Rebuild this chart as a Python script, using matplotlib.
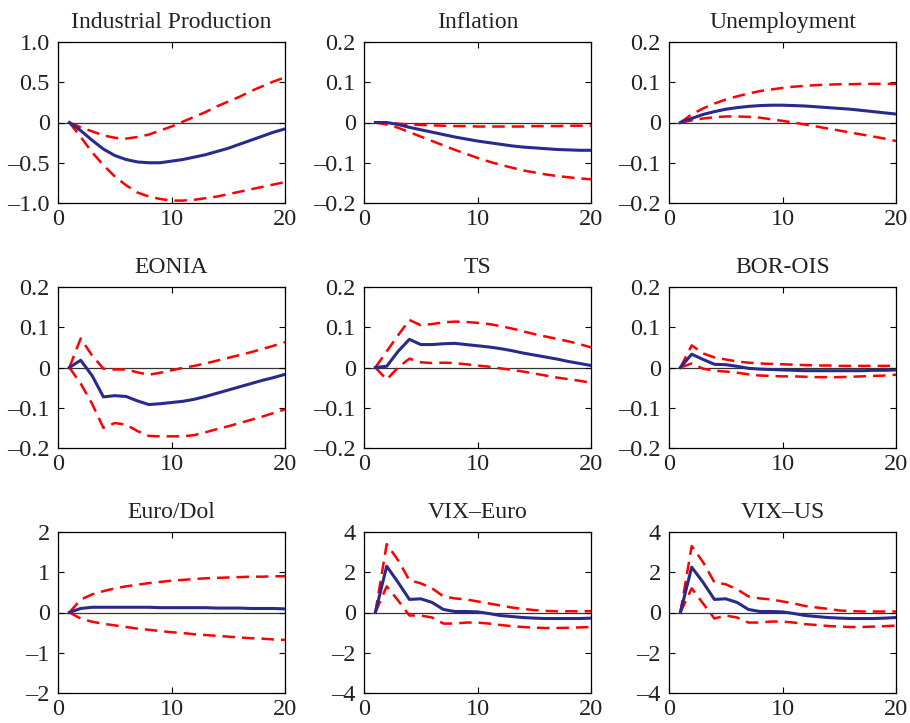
import matplotlib
matplotlib.use("Agg")
import matplotlib.pyplot as plt
import numpy as np

# horizon
steps = np.arange(1, 21)

titles = ["Industrial Production", "Inflation", "Unemployment",
          "EONIA", "TS", "BOR-OIS",
          "Euro/Dol", "VIX\u2013Euro", "VIX\u2013US"]

# median responses
ip_med = [0, -0.10, -0.22, -0.33, -0.41, -0.46, -0.49, -0.50, -0.50, -0.48,
          -0.46, -0.43, -0.40, -0.36, -0.32, -0.27, -0.22, -0.17, -0.12, -0.08]
ip_up = [0, -0.06, -0.11, -0.16, -0.19, -0.20, -0.18, -0.15, -0.10, -0.05,
         0.01, 0.07, 0.13, 0.20, 0.26, 0.32, 0.39, 0.45, 0.51, 0.56]
ip_lo = [0, -0.18, -0.37, -0.53, -0.67, -0.78, -0.87, -0.92, -0.95, -0.97,
         -0.97, -0.96, -0.94, -0.92, -0.89, -0.86, -0.83, -0.80, -0.77, -0.74]

inf_med = [0, 0, -0.005, -0.012, -0.018, -0.024, -0.030, -0.036, -0.041, -0.046,
           -0.050, -0.054, -0.058, -0.061, -0.063, -0.065, -0.067, -0.068, -0.069, -0.069]
inf_up = [0, 0, -0.003, -0.005, -0.006, -0.007, -0.008, -0.009, -0.009, -0.010,
          -0.010, -0.010, -0.010, -0.010, -0.009, -0.009, -0.009, -0.008, -0.008, -0.008]
inf_lo = [0, -0.005, -0.013, -0.024, -0.035, -0.046, -0.057, -0.068, -0.078, -0.088,
          -0.097, -0.105, -0.112, -0.119, -0.124, -0.129, -0.133, -0.136, -0.139, -0.141]

un_med = [0, 0.010, 0.020, 0.027, 0.033, 0.037, 0.040, 0.042, 0.043, 0.043,
          0.042, 0.041, 0.039, 0.037, 0.035, 0.033, 0.030, 0.027, 0.024, 0.021]
un_up = [0, 0.020, 0.035, 0.047, 0.057, 0.065, 0.072, 0.078, 0.082, 0.086,
         0.089, 0.091, 0.093, 0.094, 0.095, 0.095, 0.096, 0.096, 0.096, 0.096]
un_lo = [0, 0.005, 0.010, 0.013, 0.015, 0.015, 0.014, 0.012, 0.008, 0.004,
         0.000, -0.005, -0.010, -0.015, -0.020, -0.025, -0.030, -0.035, -0.040, -0.046]

eo_med = [0, 0.018, -0.020, -0.073, -0.070, -0.072, -0.083, -0.092, -0.090, -0.087,
          -0.084, -0.079, -0.072, -0.064, -0.056, -0.048, -0.040, -0.032, -0.025, -0.017]
eo_up = [0, 0.072, 0.030, -0.003, -0.005, -0.005, -0.012, -0.018, -0.013, -0.007,
         -0.001, 0.004, 0.010, 0.017, 0.024, 0.031, 0.038, 0.046, 0.054, 0.063]
eo_lo = [0, -0.040, -0.090, -0.150, -0.138, -0.142, -0.158, -0.170, -0.171, -0.171,
         -0.171, -0.168, -0.161, -0.153, -0.146, -0.138, -0.130, -0.122, -0.113, -0.104]

ts_med = [0, 0.003, 0.040, 0.070, 0.057, 0.057, 0.059, 0.060, 0.057, 0.054,
          0.051, 0.047, 0.042, 0.036, 0.031, 0.026, 0.021, 0.015, 0.010, 0.005]
ts_up = [0, 0.040, 0.080, 0.118, 0.105, 0.108, 0.112, 0.114, 0.113, 0.111,
         0.108, 0.103, 0.097, 0.090, 0.083, 0.077, 0.071, 0.065, 0.058, 0.050]
ts_lo = [0, -0.030, 0.000, 0.022, 0.013, 0.011, 0.012, 0.011, 0.008, 0.005,
         0.002, -0.002, -0.006, -0.010, -0.015, -0.020, -0.025, -0.029, -0.033, -0.038]

bo_med = [0, 0.033, 0.020, 0.008, 0.007, 0.003, -0.002, -0.004, -0.005, -0.006,
          -0.007, -0.008, -0.008, -0.008, -0.008, -0.008, -0.008, -0.007, -0.007, -0.006]
bo_up = [0, 0.055, 0.035, 0.025, 0.020, 0.015, 0.012, 0.010, 0.009, 0.008,
         0.007, 0.006, 0.005, 0.005, 0.004, 0.004, 0.004, 0.004, 0.004, 0.004]
bo_lo = [0, 0.010, -0.003, -0.008, -0.010, -0.013, -0.017, -0.020, -0.021, -0.022,
         -0.022, -0.023, -0.024, -0.024, -0.024, -0.023, -0.022, -0.021, -0.020, -0.018]

ed_med = [0, 0.10, 0.13, 0.13, 0.13, 0.13, 0.13, 0.13, 0.12, 0.12,
          0.12, 0.12, 0.12, 0.11, 0.11, 0.11, 0.10, 0.10, 0.10, 0.09]
ed_up = [0, 0.32, 0.45, 0.53, 0.60, 0.65, 0.69, 0.73, 0.76, 0.79,
         0.81, 0.83, 0.85, 0.86, 0.87, 0.88, 0.89, 0.89, 0.90, 0.90]
ed_lo = [0, -0.15, -0.23, -0.28, -0.32, -0.36, -0.40, -0.43, -0.46, -0.49,
         -0.51, -0.54, -0.56, -0.58, -0.60, -0.62, -0.64, -0.65, -0.67, -0.68]

ve_med = [0, 2.30, 1.50, 0.65, 0.68, 0.50, 0.15, 0.05, 0.05, 0.03,
          -0.05, -0.15, -0.20, -0.25, -0.28, -0.30, -0.30, -0.30, -0.30, -0.28]
ve_up = [0, 3.40, 2.60, 1.60, 1.45, 1.20, 0.80, 0.70, 0.65, 0.55,
         0.45, 0.35, 0.25, 0.18, 0.12, 0.08, 0.06, 0.06, 0.06, 0.07]
ve_lo = [0, 1.30, 0.60, -0.15, -0.15, -0.25, -0.55, -0.55, -0.50, -0.50,
         -0.55, -0.62, -0.68, -0.72, -0.75, -0.77, -0.77, -0.76, -0.74, -0.72]

vu_med = [0, 2.25, 1.50, 0.65, 0.68, 0.50, 0.15, 0.05, 0.05, 0.03,
          -0.05, -0.15, -0.20, -0.25, -0.28, -0.30, -0.30, -0.30, -0.28, -0.25]
vu_up = [0, 3.30, 2.50, 1.50, 1.40, 1.15, 0.80, 0.70, 0.65, 0.55,
         0.45, 0.32, 0.25, 0.18, 0.10, 0.07, 0.05, 0.05, 0.05, 0.05]
vu_lo = [0, 1.20, 0.45, -0.30, -0.15, -0.25, -0.50, -0.50, -0.45, -0.45,
         -0.50, -0.58, -0.62, -0.67, -0.70, -0.72, -0.72, -0.70, -0.68, -0.65]

medians = [ip_med, inf_med, un_med, eo_med, ts_med, bo_med, ed_med, ve_med, vu_med]
uppers = [ip_up, inf_up, un_up, eo_up, ts_up, bo_up, ed_up, ve_up, vu_up]
lowers = [ip_lo, inf_lo, un_lo, eo_lo, ts_lo, bo_lo, ed_lo, ve_lo, vu_lo]

# y ticks / labels per panel
small_ticks = [-0.2, -0.1, 0, 0.1, 0.2]
small_labels = ["\u20130.2", "\u20130.1", "0", "0.1", "0.2"]
ip_ticks = [-1.0, -0.5, 0, 0.5, 1.0]
ip_labels = ["\u20131.0", "\u20130.5", "0", "0.5", "1.0"]
ed_ticks = [-2, -1, 0, 1, 2]
ed_labels = ["\u20132", "\u20131", "0", "1", "2"]
vix_ticks = [-4, -2, 0, 2, 4]
vix_labels = ["\u20134", "\u20132", "0", "2", "4"]

yticks = [ip_ticks, small_ticks, small_ticks, small_ticks, small_ticks, small_ticks,
          ed_ticks, vix_ticks, vix_ticks]
ylabels = [ip_labels, small_labels, small_labels, small_labels, small_labels, small_labels,
           ed_labels, vix_labels, vix_labels]

plt.rcParams['font.family'] = ['Liberation Serif', 'DejaVu Serif']

fig = plt.figure(figsize=(9.1, 7.23), dpi=100)
W, H = 910, 723
lefts = [58, 364, 669]
tops = [42, 287, 532]
aw, ah = 227, 161

for i in range(9):
    r, c = divmod(i, 3)
    ax = fig.add_axes([lefts[c] / W, 1 - (tops[r] + ah) / H, aw / W, ah / H])
    ax.axhline(0, color='#333333', lw=0.9, zorder=1)
    ax.plot(steps, medians[i], color='#2a2a8c', lw=2.2, zorder=3)
    ax.plot(steps, uppers[i], color='red', lw=1.8, ls=(0, (5, 2.8)), zorder=2)
    ax.plot(steps, lowers[i], color='red', lw=1.8, ls=(0, (5, 2.8)), zorder=2)
    ax.set_xlim(0, 20)
    ax.set_ylim(yticks[i][0], yticks[i][-1])
    ax.set_xticks([0, 10, 20])
    ax.set_xticklabels(["0", "10", "20"])
    ax.set_yticks(yticks[i])
    ax.set_yticklabels(ylabels[i])
    ax.tick_params(direction='in', top=True, right=True, length=4, width=0.8,
                   labelsize=17.5, colors='black')
    ax.tick_params(axis='x', pad=4)
    ax.tick_params(axis='y', pad=6)
    ax.tick_params(labelcolor='#222222')
    for s in ax.spines.values():
        s.set_linewidth(0.9)
    ax.set_title(titles[i], fontsize=17, pad=10, color='#222222')

fig.savefig("out.png", dpi=100)
